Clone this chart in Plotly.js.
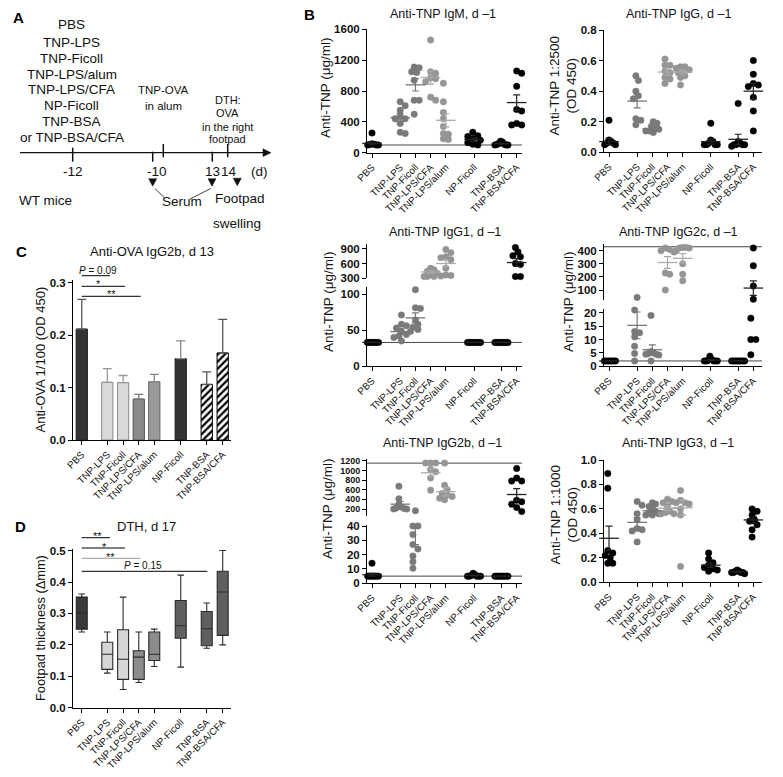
<!DOCTYPE html>
<html><head><meta charset="utf-8">
<script src="https://cdn.plot.ly/plotly-3.0.1.min.js"></script>
<style>body{margin:0;background:#fff}#chart{width:783px;height:777px}</style>
</head><body><div id="chart"></div>
<script>
const W=783,H=777;
const FONT='Liberation Sans, Arial, Helvetica, sans-serif';

// ---------------- DATA ----------------
const groups=['PBS','TNP-LPS','TNP-Ficoll','TNP-LPS/CFA','TNP-LPS/alum','NP-Ficoll','TNP-BSA','TNP-BSA/CFA'];
const posB=[0,1.85,2.85,3.85,4.85,6.7,8.5,9.5];
const posCD=[0,1.63,2.64,3.64,4.63,6.32,7.98,9.0];

const immunizations=['PBS','TNP-LPS','TNP-Ficoll','TNP-LPS/alum','TNP-LPS/CFA','NP-Ficoll','TNP-BSA','or TNP-BSA/CFA'];
const timelineDays=['-12','-1','0','13','14'];

// Anti-TNP IgM (ug/ml)
const igmPts=[[255,115,105,100,100,100,100,110],[660,610,550,470,440,440,380,265,250],[1110,1100,1050,1040,940,680,680,500],[1460,1050,1030,970,960,920,720,680],[900,660,520,440,340,250,240,180,170],[265,220,210,180,160,130,110,100],[150,140,120,110,105,100,100,100],[1060,1030,860,560,540,380,360,360]];
const igmMean=[120,455,880,975,420,170,118,650];
const igmSem=[18,55,80,85,85,22,8,100];
const igmLimit=[100];

// Anti-TNP IgG (OD)
const iggPts=[[0.21,0.08,0.07,0.06,0.06,0.05,0.05,0.05],[0.50,0.47,0.40,0.37,0.35,0.22,0.21,0.18],[0.20,0.19,0.17,0.16,0.15,0.14,0.14,0.13],[0.61,0.57,0.57,0.53,0.52,0.49,0.48,0.45],[0.56,0.56,0.55,0.54,0.53,0.52,0.50,0.49,0.44],[0.19,0.08,0.07,0.06,0.05,0.05,0.05,0.05],[0.32,0.07,0.06,0.05,0.05,0.05,0.05,0.04],[0.60,0.51,0.45,0.44,0.43,0.36,0.27,0.14]];
const iggMean=[0.07,0.335,0.155,0.525,0.525,0.07,0.085,0.40];
const iggSem=[0.02,0.045,0.01,0.018,0.013,0.016,0.033,0.05];
const iggLimit=[];

// Anti-TNP IgG1 (ug/ml)
const igg1Pts=[[33,33,33,33,33,33,33,33],[71,58,56,53,48,44,42,40,35],[106,81,80,64,58,54,51,48],[500,470,440,400,380,330,330,330],[890,820,740,720,680,500,360,350,340],[33,33,33,33,33,33,33,33],[33,33,33,33,33,33,33,33],[930,840,760,740,600,580,330,330]];
const igg1Mean=[33,48,67,425,600,33,33,620];
const igg1Sem=[0,4,7,25,70,0,0,80];
const igg1Limit=[33];

// Anti-TNP IgG2c (ug/ml)
const igg2cPts=[[2,2,2,2,2,2,2,2],[44,21,13,12.5,11,7.5,4.8,2],[19,5.5,5,4.8,4.5,4.5,4.2,2],[420,410,400,390,230,220,100],[425,425,420,420,400,300,220,170],[3.8,2.5,2.2,2,2,2,2,2],[2,2,2,2,2,2,2,2],[420,285,130,30,18,10,10,4.3]];
const igg2cMean=[2,15.3,6.2,310,342,2.3,2,115];
const igg2cSem=[0,5,1.8,45,35,0.2,0,55];
const igg2cLimit=[2,430];

// Anti-TNP IgG2b (ug/ml)
const igg2bPts=[[14,5,5,5,5,5,5,5],[670,410,300,240,220,210,200,200],[165,40,40,34,27,24,19,15,10.5],[1150,1150,1150,1020,970,840,590],[1150,690,600,520,490,460,420,390],[7,6,5.5,5,5,5,5,5],[5,5,5,5,5,5,5,5],[1040,840,780,780,380,350,300,230,150]];
const igg2bMean=[6,300,47,950,560,5.5,5,500];
const igg2bSem=[1,55,20,80,90,0.3,0,120];
const igg2bLimit=[5,1150];

// Anti-TNP IgG3 (OD)
const igg3Pts=[[0.89,0.77,0.26,0.24,0.22,0.20,0.155,0.155],[0.66,0.63,0.56,0.51,0.44,0.43,0.42,0.33],[0.65,0.64,0.62,0.60,0.58,0.57,0.56,0.55,0.55],[0.68,0.66,0.65,0.62,0.58,0.57,0.56,0.56],[0.75,0.67,0.65,0.65,0.64,0.60,0.55,0.13],[0.24,0.19,0.16,0.14,0.12,0.11,0.10,0.09],[0.10,0.09,0.09,0.08,0.08,0.08,0.08,0.07],[0.60,0.58,0.55,0.51,0.50,0.47,0.43,0.37]];
const igg3Mean=[0.36,0.49,0.585,0.605,0.61,0.14,0.085,0.51];
const igg3Sem=[0.1,0.04,0.012,0.018,0.06,0.018,0.004,0.03];
const igg3Limit=[];

// C: Anti-OVA IgG2b, d13
const ovaMean=[0.2115,0.110,0.1095,0.078,0.111,0.155,0.106,0.166];
const ovaErr=[0.0565,0.026,0.0135,0.009,0.014,0.034,0.024,0.064];

// D: DTH footpad thickness
const dthMin=[0.241,0.110,0.058,0.080,0.131,0.129,0.189,0.200];
const dthQ1=[0.250,0.122,0.090,0.090,0.150,0.221,0.197,0.230];
const dthMed=[0.301,0.170,0.154,0.161,0.170,0.261,0.251,0.368];
const dthQ3=[0.352,0.2085,0.248,0.181,0.241,0.341,0.306,0.434];
const dthMax=[0.362,0.241,0.352,0.241,0.250,0.422,0.333,0.500];

// ---------------- STYLE / LAYOUT ----------------
const dotColors=['#000','#7a7a7a','#7a7a7a','#959595','#959595','#000','#000','#000'];
const meanColors=['#222','#777','#777','#aaa','#aaa','#222','#222','#222'];
const barColors=['#333','#d9d9d9','#d9d9d9','#8a8a8a','#9a9a9a','#333','#fff','#fff'];
const barLine=['#222','#888','#888','#555','#666','#222','#000','#000'];
const barHatch=[false,false,false,false,false,false,true,true];
const errColors=['#555','#999','#999','#777','#888','#888','#555','#555'];
const boxFill=['#3a3a3a','#d6d6d6','#d6d6d6','#8c8c8c','#8c8c8c','#5f5f5f','#5f5f5f','#5f5f5f'];

const fx=p=>p/W, fy=p=>1-p/H;
const layout={width:W,height:H,margin:{l:0,r:0,t:0,b:0},paper_bgcolor:'#fff',plot_bgcolor:'rgba(0,0,0,0)',
  showlegend:false,barmode:'overlay',boxmode:'overlay',font:{family:FONT,color:'#000'},shapes:[],annotations:[]};
const traces=[];
let nx=0,ny=0;
function newAx(p){ if(p==='x'){nx++;return nx===1?'':String(nx);} ny++; return ny===1?'':String(ny); }

function xCfg(domPx,range,pos,anchor){
  return {domain:[fx(domPx[0]),fx(domPx[1])],range,anchor,tickmode:'array',tickvals:pos,ticktext:groups,tickangle:-45,
    tickfont:{size:9.8,family:FONT,color:'#111'},ticks:'outside',ticklen:4,tickwidth:1,tickcolor:'#000',
    showline:true,linecolor:'#000',linewidth:1,showgrid:false,zeroline:false,fixedrange:true};
}
function yCfg(top,bot,range,ticks,fmt,anchor,fs){
  return {domain:[fy(bot),fy(top)],range,anchor,tickmode:'array',tickvals:ticks,ticktext:ticks.map(t=>fmt?t.toFixed(1):String(t)),
    ticks:'outside',ticklen:4,tickwidth:1,tickcolor:'#000',showline:true,linecolor:'#000',linewidth:1,
    showgrid:false,zeroline:false,fixedrange:true,tickfont:{size:fs||11.5,family:FONT,weight:'bold',color:'#111'}};
}
function ann(text,x,y,size,o){
  layout.annotations.push(Object.assign({text,x:fx(x),y:fy(y),xref:'paper',yref:'paper',showarrow:false,
    xanchor:'center',yanchor:'middle',font:{size,family:FONT,color:'#111'}},o||{}));
}
function seg(x0,y0,x1,y1,color,width){
  layout.shapes.push({type:'line',xref:'paper',yref:'paper',x0:fx(x0),y0:fy(y0),x1:fx(x1),y1:fy(y1),line:{color:color||'#000',width:width||1}});
}
function tri(pts,color){
  const d='M'+pts.map(p=>fx(p[0])+','+fy(p[1])).join(' L')+' Z';
  layout.shapes.push({type:'path',xref:'paper',yref:'paper',path:d,fillcolor:color,line:{color:color,width:0.5}});
}

function swarm(ys,D,maxHalf){
  const order=ys.map((_,i)=>i).sort((a,b)=>ys[a]-ys[b]);
  const placed=[],off=new Array(ys.length).fill(0);
  order.forEach(i=>{
    for(let k=0;k<400;k++){
      const c=k===0?0:(k%2?1:-1)*Math.ceil(k/2)*D*0.5;
      if(placed.every(p=>Math.hypot(p[0]-c,p[1]-ys[i])>=D)){off[i]=c;placed.push([c,ys[i]]);break;}
    }
  });
  if(!off.length) return off;
  const mx=Math.max(...off),mn=Math.min(...off),mid=(mx+mn)/2;
  let o=off.map(v=>v-mid);
  const m=Math.max(...o.map(Math.abs));
  if(m>maxHalf) o=o.map(v=>v*maxHalf/m);
  return o;
}

// ---------------- PANEL B ----------------
const colL=[367,522],colR=[604,762];
const xrL=[-0.33,9.85],xrR=[-0.33,10.07];
const panelsB=[
 {pts:igmPts,mean:igmMean,sem:igmSem,limits:igmLimit,xpx:colL,xr:xrL,
  segs:[{top:29.3,bot:152.7,range:[0,1600],ticks:[0,400,800,1200,1600]}],
  title:'Anti-TNP IgM, d –1',tpos:[443,14],ytitle:'Anti-TNP (μg/ml)',ypos:[325,88]},
 {pts:iggPts,mean:iggMean,sem:iggSem,limits:iggLimit,xpx:colR,xr:xrR,
  segs:[{top:30,bot:152.3,range:[0,0.8],ticks:[0,0.2,0.4,0.6,0.8],fmt:1}],
  title:'Anti-TNP IgG, d –1',tpos:[678,14],ytitle:'Anti-TNP 1:2500<br>(OD 450)',ypos:[563.5,86]},
 {pts:igg1Pts,mean:igg1Mean,sem:igg1Sem,limits:igg1Limit,xpx:colL,xr:xrL,
  segs:[{top:287,bot:366.3,range:[0,109.7],ticks:[0,50,100]},{top:244,bot:278.3,range:[294,1003],ticks:[300,600,900]}],
  title:'Anti-TNP IgG1, d –1',tpos:[445,231.7],ytitle:'Anti-TNP (μg/ml)',ypos:[328,302]},
 {pts:igg2cPts,mean:igg2cMean,sem:igg2cSem,limits:igg2cLimit,xpx:colR,xr:xrR,
  segs:[{top:309.3,bot:366.3,range:[0,21.3],ticks:[0,5,10,15,20]},{top:244,bot:300,range:[24,451],ticks:[100,200,300,400]}],
  title:'Anti-TNP IgG2c, d –1',tpos:[678,231.7],ytitle:'Anti-TNP (μg/ml)',ypos:[568,302]},
 {pts:igg2bPts,mean:igg2bMean,sem:igg2bSem,limits:igg2bLimit,xpx:colL,xr:xrL,
  segs:[{top:525,bot:583.3,range:[0,40.7],ticks:[0,10,20,30,40]},{top:459.3,bot:516,range:[55,1229],ticks:[200,400,600,800,1000,1200],fs:9}],
  title:'Anti-TNP IgG2b, d –1',tpos:[443,443],ytitle:'Anti-TNP (μg/ml)',ypos:[327,509]},
 {pts:igg3Pts,mean:igg3Mean,sem:igg3Sem,limits:igg3Limit,xpx:colR,xr:xrR,
  segs:[{top:460,bot:582.3,range:[0,1],ticks:[0,0.2,0.4,0.6,0.8,1.0],fmt:1}],
  title:'Anti-TNP IgG3, d –1',tpos:[678,443],ytitle:'Anti-TNP 1:1000<br>(OD 450)',ypos:[563.5,515]},
];

panelsB.forEach(P=>{
  const xs=newAx('x'); const xref='x'+xs;
  const yss=P.segs.map(()=>newAx('y'));
  layout['xaxis'+xs]=xCfg(P.xpx,P.xr,posB,'y'+yss[0]);
  P.segs.forEach((s,si)=>{
    layout['yaxis'+yss[si]]=yCfg(s.top,s.bot,s.range,s.ticks,s.fmt,xref,s.fs);
    s.yref='y'+yss[si];
    s.toPix=v=>s.bot-(v-s.range[0])/(s.range[1]-s.range[0])*(s.bot-s.top);
  });
  const unitPx=(P.xpx[1]-P.xpx[0])/(P.xr[1]-P.xr[0]);
  const segOf=v=>(P.segs.length>1&&v>P.segs[0].range[1])?1:0;
  P.limits.forEach(l=>{
    const s=P.segs[segOf(l)];
    layout.shapes.push({type:'line',xref:xref,yref:s.yref,x0:P.xr[0],x1:P.xr[1],y0:l,y1:l,layer:'below',line:{color:'#444',width:1}});
  });
  P.segs.forEach((s,si)=>{
    const X=[],Y=[],C=[];
    P.pts.forEach((arr,g)=>{
      const vals=arr.filter(v=>segOf(v)===si);
      const off=swarm(vals.map(s.toPix),5,6.5);
      vals.forEach((v,k)=>{X.push(posB[g]+off[k]/unitPx);Y.push(v);C.push(dotColors[g]);});
    });
    traces.push({type:'scatter',mode:'markers',x:X,y:Y,xaxis:xref,yaxis:s.yref,cliponaxis:false,hoverinfo:'skip',
      marker:{size:6.5,color:C,line:{width:0.4,color:C}}});
  });
  P.mean.forEach((m,g)=>{
    const sem=P.sem[g];
    const si=(P.segs.length>1&&(m-sem)>P.segs[0].range[1])?1:0;
    const s=P.segs[si];
    const plus=Math.max(0,Math.min(m+sem,s.range[1])-m);
    const minus=Math.max(0,m-Math.max(m-sem,s.range[0]));
    traces.push({type:'scatter',mode:'markers',x:[posB[g]],y:[m],xaxis:xref,yaxis:s.yref,cliponaxis:false,hoverinfo:'skip',
      marker:{symbol:'line-ew',size:14,color:meanColors[g],line:{width:1.3,color:meanColors[g]}},
      error_y:{type:'data',symmetric:false,array:[plus],arrayminus:[minus],color:meanColors[g],thickness:1.2,width:3.5}});
  });
  ann(P.title,P.tpos[0],P.tpos[1],12.5);
  ann(P.ytitle,P.ypos[0],P.ypos[1],13.5,{textangle:-90});
});

// ---------------- PANEL C ----------------
const cdX=[73,231], cdR=[-0.56,9.53];
{
  const xs=newAx('x'),ys=newAx('y');
  layout['xaxis'+xs]=xCfg(cdX,cdR,posCD,'y'+ys);
  layout['yaxis'+ys]=yCfg(280,440,[0,0.305],[0,0.1,0.2,0.3],1,'x'+xs);
  ovaMean.forEach((m,g)=>{
    const mk={color:barColors[g],line:{color:barLine[g],width:1}};
    if(barHatch[g]) mk.pattern={shape:'/',fgcolor:'#000',bgcolor:'#fff',size:5,solidity:0.45};
    traces.push({type:'bar',x:[posCD[g]],y:[m],width:0.72,xaxis:'x'+xs,yaxis:'y'+ys,hoverinfo:'skip',marker:mk,
      error_y:{type:'data',symmetric:false,array:[ovaErr[g]],arrayminus:[0],color:errColors[g],thickness:1.3,width:4.5}});
  });
  ann('Anti-OVA IgG2b, d 13',151.7,251.7,13);
  ann('Anti-OVA 1/100 (OD 450)',40.5,360,13,{textangle:-90});
  ann('C',21.7,251.7,15,{font:{size:15,family:FONT,color:'#000',weight:'bold'}});
  seg(81.7,275.7,110,275.7); ann('<i>P</i> = 0.09',98,270,10);
  seg(81.7,286.3,125,286.3); ann('*',98.3,283.5,11);
  seg(81.7,296.3,140.7,296.3); ann('**',111.7,294.3,11);
}

// ---------------- PANEL D ----------------
{
  const xs=newAx('x'),ys=newAx('y');
  layout['xaxis'+xs]=xCfg(cdX,cdR,posCD,'y'+ys);
  layout['yaxis'+ys]=yCfg(549,707.7,[0,0.505],[0,0.1,0.2,0.3,0.4,0.5],1,'x'+xs);
  dthMed.forEach((m,g)=>{
    traces.push({type:'box',x:[posCD[g]],q1:[dthQ1[g]],median:[m],q3:[dthQ3[g]],lowerfence:[dthMin[g]],upperfence:[dthMax[g]],
      width:0.7,whiskerwidth:0.6,boxpoints:false,xaxis:'x'+xs,yaxis:'y'+ys,hoverinfo:'skip',
      fillcolor:boxFill[g],line:{color:'#2a2a2a',width:1.1}});
  });
  ann('DTH, d 17',146.7,526.7,13);
  ann('Footpad thickness (Δmm)',40,628,12.8,{textangle:-90});
  ann('D',20,526.7,15,{font:{size:15,family:FONT,color:'#000',weight:'bold'}});
  seg(81.7,537.7,110,537.7); ann('**',97.3,535.7,11);
  seg(81.7,548,125,548); ann('*',104,546.5,11);
  seg(81.7,558.3,140.7,558.3,'#999'); ann('**',110.7,556.8,11);
  seg(81.7,571.3,207.3,571.3); ann('<i>P</i> = 0.15',142.7,565,10);
}

// ---------------- PANEL A ----------------
ann('A',18,17,15,{font:{size:15,family:FONT,color:'#000',weight:'bold'}});
ann('B',309,14,15,{font:{size:15,family:FONT,color:'#000',weight:'bold'}});
const listY=[25,42.3,58.3,74,90,106,121.7,137.3];
immunizations.forEach((t,i)=>ann(t,71.7,listY[i],13.5));
seg(20,152.7,264,152.7,'#111',1.3);
tri([[263,148.8],[271,152.7],[263,156.6]],'#111');
const tickX=[72.7,152.7,163.3,212.3,227.7];
const tickY=[[147.7,161.7],[151.7,161.7],[144,157.3],[151.7,161.7],[144,157.3]];
tickX.forEach((x,i)=>seg(x,tickY[i][0],x,tickY[i][1],'#111',1.5));
const dayLabX=[72.7,153.3,162.7,212.3,229.3];
timelineDays.forEach((t,i)=>ann(t,dayLabX[i],171,13.5));
ann('(d)',259.3,171,13.5);
ann('TNP-OVA',163,90,11.5); ann('in alum',163,106,11.5);
ann('DTH:',227.7,100,11); ann('OVA',227.7,113.3,11); ann('in the right',227.7,126.7,11); ann('footpad',227.7,139.3,11);
tri([[148.7,178.7],[156.7,178.7],[152.7,186.2]],'#111');
tri([[208,178.7],[216,178.7],[212,186.2]],'#111');
tri([[233.3,178.2],[241.3,178.2],[237.3,185.7]],'#111');
seg(155,188.5,164,197.3,'#111',0.8);
seg(210.7,188.5,190,199,'#111',0.8);
ann('WT mice',45,200,13.5);
ann('Serum',182,201.7,13.5);
ann('Footpad',240,198.3,13.5);
ann('swelling',236.7,223.3,13.5);

Plotly.newPlot('chart',traces,layout,{staticPlot:true,displayModeBar:false});
</script></body></html>
